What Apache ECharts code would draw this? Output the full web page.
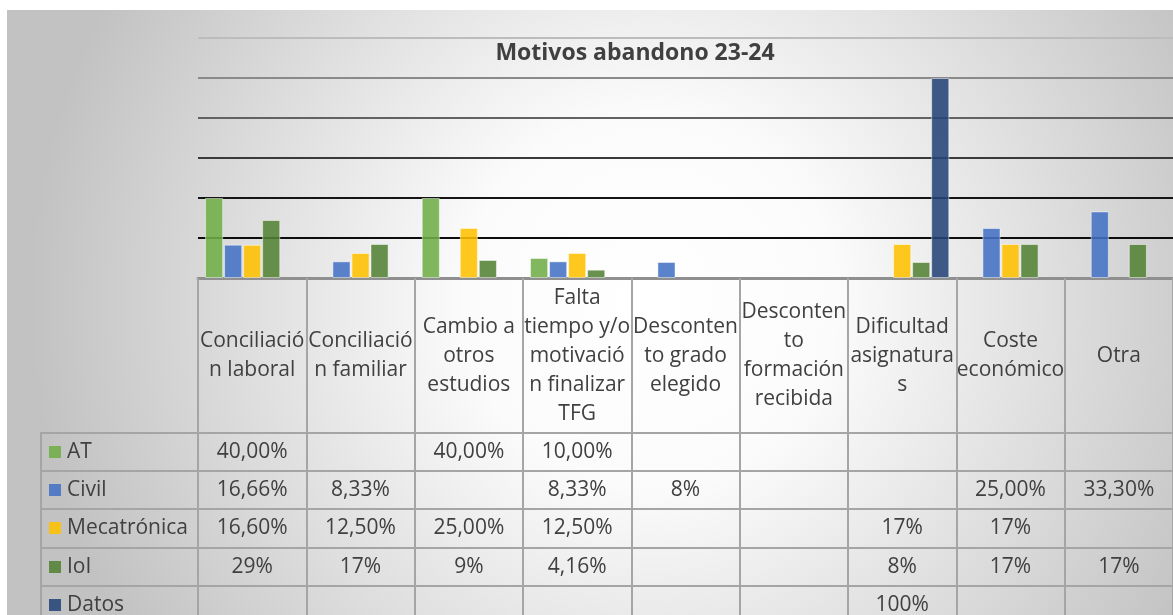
<!DOCTYPE html>
<html>
<head>
<meta charset="utf-8">
<script src="https://cdn.jsdelivr.net/npm/echarts@6/dist/echarts.min.js"></script>
<style>
  html, body { margin: 0; padding: 0; background: #fff; }
  #main { width: 1173px; height: 615px; }
</style>
</head>
<body>
<div id="main"></div>
<script>
// categorias tal como salen partidas en la tabla
const categories = [
  'Conciliació\nn laboral',
  'Conciliació\nn familiar',
  'Cambio a\notros\nestudios',
  'Falta\ntiempo y/o\nmotivació\nn finalizar\nTFG',
  'Desconten\nto grado\nelegido',
  'Desconten\nto\nformación\nrecibida',
  'Dificultad\nasignatura\ns',
  'Coste\neconómico',
  'Otra'
];
const seriesNames = ['AT', 'Civil', 'Mecatrónica', 'IoI', 'Datos'];
const atValues = ['40,00%', '', '40,00%', '10,00%', '', '', '', '', ''];
const civilValues = ['16,66%', '8,33%', '', '8,33%', '8%', '', '', '25,00%', '33,30%'];
const mecaValues = ['16,60%', '12,50%', '25,00%', '12,50%', '', '', '17%', '17%', ''];
const ioiValues = ['29%', '17%', '9%', '4,16%', '', '', '8%', '17%', '17%'];
const datosValues = ['', '', '', '', '', '', '100%', '', ''];
const colors = ['#70AD47', '#4472C4', '#FFC000', '#548235', '#264478'];

const tableRows = [atValues, civilValues, mecaValues, ioiValues, datosValues];
const toNumber = s => s === '' ? null : parseFloat(s.replace(',', '.').replace('%', ''));

const FONT = "'Open Sans', 'Liberation Sans', sans-serif";
const TXT = '#404040';
const LINE = '#a5a5a5';

const chart = echarts.init(document.getElementById('main'));

chart.setOption({
  animation: false,
  grid: {left: 198, right: 0, top: 38, bottom: 337},
  xAxis: {
    type: 'category',
    data: categories,
    axisLabel: {show: false},
    axisLine: {lineStyle: {color: '#8f8f8f', width: 3}},
    axisTick: {show: true, length: 337, lineStyle: {color: LINE, width: 2}}
  },
  yAxis: {
    type: 'value',
    min: 0,
    max: 120,
    interval: 20,
    axisLabel: {show: false},
    axisLine: {show: false},
    axisTick: {show: false},
    splitLine: {
      // las lineas se oscurecen hacia abajo como en el original
      lineStyle: {
        color: ['#000', '#0d0d0d', '#151515', '#3a3a3a', '#626262', '#8a8a8a', '#bcbcbc'],
        width: 2
      }
    }
  },
  series: seriesNames.map((name, i) => ({
    name: name,
    type: 'bar',
    data: tableRows[i].map(toNumber),
    barGap: '5%',
    barCategoryGap: '13%',
    itemStyle: {
      color: colors[i],
      opacity: 0.88,
      borderColor: 'rgba(255,255,255,0.55)',
      borderWidth: 1
    }
  }))
});

// tabla de datos debajo del eje
const headerY = 356;
const rowY = [452, 490, 528, 567, 605];
const rowLines = [433, 471, 509, 548, 586];
const graphic = [];

graphic.push({
  type: 'rect',
  z: -100,
  silent: true,
  shape: {x: 7, y: 10, width: 1166, height: 605},
  style: {
    fill: new echarts.graphic.RadialGradient(650, 300, 620, [
      {offset: 0, color: '#ffffff'},
      {offset: 0.3, color: '#fbfbfb'},
      {offset: 1, color: '#c2c2c2'}
    ], true)
  }
});

graphic.push({
  type: 'text',
  z: 100,
  style: {
    text: 'Motivos abandono 23-24',
    x: 635, y: 53,
    align: 'center', verticalAlign: 'middle',
    font: 'bold 23px ' + FONT,
    fill: TXT
  }
});

categories.forEach((c, j) => {
  const cx = chart.convertToPixel({xAxisIndex: 0}, j);
  graphic.push({
    type: 'text',
    z: 100,
    style: {
      text: c, x: cx, y: headerY,
      align: 'center', verticalAlign: 'middle',
      font: '21px ' + FONT, lineHeight: 29, fill: TXT
    }
  });
  tableRows.forEach((row, i) => {
    if (row[j] === '') return;
    graphic.push({
      type: 'text',
      z: 100,
      style: {
        text: row[j], x: cx, y: rowY[i],
        align: 'center', verticalAlign: 'middle',
        font: '21px ' + FONT, fill: TXT
      }
    });
  });
});

rowLines.forEach(y => {
  graphic.push({
    type: 'line', z: 90, silent: true,
    shape: {x1: 40, y1: y, x2: 1173, y2: y},
    style: {stroke: LINE, lineWidth: 2}
  });
});
graphic.push({
  type: 'line', z: 90, silent: true,
  shape: {x1: 41, y1: 433, x2: 41, y2: 615},
  style: {stroke: LINE, lineWidth: 2}
});

seriesNames.forEach((name, i) => {
  graphic.push({
    type: 'rect', z: 100,
    shape: {x: 49, y: rowY[i] - 6, width: 12, height: 12},
    style: {fill: colors[i], opacity: 0.88}
  });
  graphic.push({
    type: 'text', z: 100,
    style: {
      text: name, x: 67, y: rowY[i],
      align: 'left', verticalAlign: 'middle',
      font: '21px ' + FONT, fill: TXT
    }
  });
});

chart.setOption({graphic: graphic});
</script>
</body>
</html>
